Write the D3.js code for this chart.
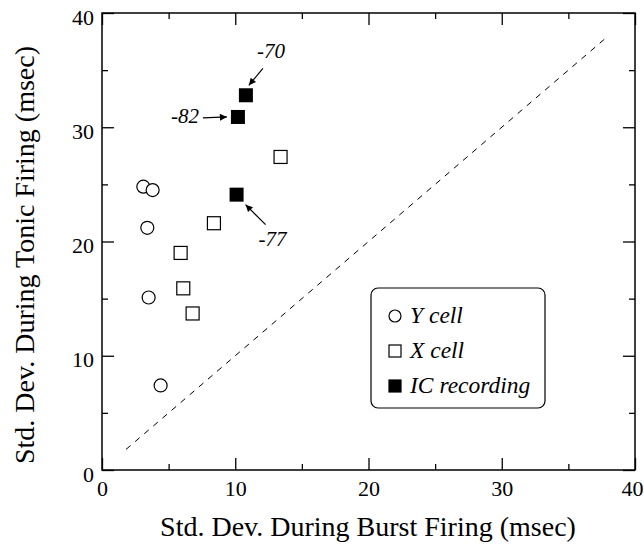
<!DOCTYPE html>
<html><head><meta charset="utf-8">
<script src="https://cdn.jsdelivr.net/npm/d3@7"></script>
<style>body{margin:0;background:#fff}svg{display:block}</style>
</head><body>
<script>
const yCellBurst = [3.1, 3.8, 3.4, 3.5, 4.4];
const yCellTonic = [24.8, 24.5, 21.2, 15.1, 7.4];
const xCellBurst = [13.4, 8.4, 5.9, 6.1, 6.8];
const xCellTonic = [27.4, 21.6, 19.0, 15.9, 13.7];
const icBurst = [10.8, 10.2, 10.1];
const icTonic = [32.8, 30.9, 24.1];
const icLabels = ["-70", "-82", "-77"];
const majorTicks = [0, 10, 20, 30, 40];
const minorTicks = [5, 15, 25, 35];
const unityLine = [1.8, 38];
const legendLabels = ["Y cell", "X cell", "IC recording"];

const W = 644, H = 544;
const m = {l: 102, r: 9, t: 13, b: 74};
const svg = d3.select("body").append("svg").attr("width", W).attr("height", H);
const x = d3.scaleLinear().domain([0, 40]).range([m.l, W - m.r]);
const y = d3.scaleLinear().domain([0, 40]).range([H - m.b, m.t]);
const font = "'Liberation Serif', 'Times New Roman', serif";

function ax(gen, tr, vals, size, labels, pad) {
  const g = svg.append("g").attr("transform", tr)
    .call(gen.tickValues(vals).tickSize(size).tickPadding(pad).tickFormat(labels ? d3.format("d") : ""));
  g.select(".domain").remove();
  g.attr("font-family", font);
  g.selectAll("line").attr("stroke", "#000").attr("stroke-width", 1.3);
  g.selectAll("text").attr("font-family", font).attr("font-size", 22).attr("fill", "#000");
  return g;
}
const bt = `translate(0,${y(0)})`, tt = `translate(0,${y(40)})`;
const lt = `translate(${x(0)},0)`, rt = `translate(${x(40)},0)`;
ax(d3.axisBottom(x), bt, majorTicks, -12, true, 10)
  .selectAll("text").attr("dx", d => d === 40 ? -3 : 0);
ax(d3.axisBottom(x), bt, minorTicks, -6, false, 10);
ax(d3.axisTop(x), tt, majorTicks, -12, false, 3);
ax(d3.axisTop(x), tt, minorTicks, -6, false, 3);
ax(d3.axisLeft(y), lt, majorTicks, -12, true, 8).selectAll("text").attr("dy", "0.5em");
ax(d3.axisLeft(y), lt, minorTicks, -6, false, 8);
ax(d3.axisRight(y), rt, majorTicks, -12, false, 3);
ax(d3.axisRight(y), rt, minorTicks, -6, false, 3);

svg.append("rect").attr("x", x(0)).attr("y", y(40))
  .attr("width", x(40) - x(0)).attr("height", y(0) - y(40))
  .attr("fill", "none").attr("stroke", "#000").attr("stroke-width", 1.5);

// unity line
svg.append("line")
  .attr("x1", x(unityLine[0])).attr("y1", y(unityLine[0]))
  .attr("x2", x(unityLine[1])).attr("y2", y(unityLine[1]))
  .attr("stroke", "#000").attr("stroke-width", 1).attr("stroke-dasharray", "6,6");

// Y cells
svg.append("g").selectAll("circle").data(yCellBurst).join("circle")
  .attr("cx", d => x(d)).attr("cy", (d, i) => y(yCellTonic[i])).attr("r", 6.5)
  .attr("fill", "#fff").attr("stroke", "#000").attr("stroke-width", 1.2);
// X cells
const s = 13;
svg.append("g").selectAll("rect").data(xCellBurst).join("rect")
  .attr("x", d => x(d) - s / 2).attr("y", (d, i) => y(xCellTonic[i]) - s / 2)
  .attr("width", s).attr("height", s)
  .attr("fill", "#fff").attr("stroke", "#000").attr("stroke-width", 1.2);
// IC
const s2 = 14;
svg.append("g").selectAll("rect").data(icBurst).join("rect")
  .attr("x", d => x(d) - s2 / 2).attr("y", (d, i) => y(icTonic[i]) - s2 / 2)
  .attr("width", s2).attr("height", s2).attr("fill", "#000");

// annotations
const defs = svg.append("defs");
defs.append("marker").attr("id", "ah").attr("viewBox", "0 0 10 10")
  .attr("refX", 10).attr("refY", 5).attr("markerWidth", 10).attr("markerHeight", 7)
  .attr("markerUnits", "userSpaceOnUse").attr("orient", "auto")
  .append("path").attr("d", "M0,0L10,5L0,10z").attr("fill", "#000");
const ann = [
  {tx: 11, ty: -37, ax1: 17, ay1: -27, ax2: 3, ay2: -10},
  {tx: -67, ty: 6, ax1: -35, ay1: 1, ax2: -11, ay2: 0},
  {tx: 22, ty: 51, ax1: 29, ay1: 30, ax2: 9, ay2: 10}
];
icBurst.forEach((b, i) => {
  const px = x(b), py = y(icTonic[i]), o = ann[i];
  svg.append("text").attr("x", px + o.tx).attr("y", py + o.ty)
    .attr("font-family", font).attr("font-style", "italic").attr("font-size", 21)
    .text(icLabels[i]);
  svg.append("line").attr("x1", px + o.ax1).attr("y1", py + o.ay1)
    .attr("x2", px + o.ax2).attr("y2", py + o.ay2)
    .attr("stroke", "#000").attr("stroke-width", 1.2).attr("marker-end", "url(#ah)");
});

// legend
const lg = svg.append("g").attr("transform", "translate(371,288)");
lg.append("rect").attr("width", 174).attr("height", 120).attr("rx", 7)
  .attr("fill", "#fff").attr("stroke", "#000").attr("stroke-width", 1.2);
legendLabels.forEach((t, i) => {
  const cy = 28 + i * 35;
  if (i === 0) lg.append("circle").attr("cx", 24).attr("cy", cy).attr("r", 6)
    .attr("fill", "#fff").attr("stroke", "#000").attr("stroke-width", 1.2);
  else lg.append("rect").attr("x", 18).attr("y", cy - 6).attr("width", 12).attr("height", 12)
    .attr("fill", i === 2 ? "#000" : "#fff").attr("stroke", "#000").attr("stroke-width", 1.2);
  lg.append("text").attr("x", 39).attr("y", cy + 7)
    .attr("font-family", font).attr("font-style", "italic").attr("font-size", 23.5).text(t);
});

// axis titles
svg.append("text").attr("x", 368).attr("y", 536)
  .attr("text-anchor", "middle").attr("font-family", font).attr("font-size", 28)
  .text("Std. Dev. During Burst Firing (msec)");
svg.append("text").attr("transform", `translate(34,255) rotate(-90)`)
  .attr("text-anchor", "middle").attr("font-family", font).attr("font-size", 28)
  .text("Std. Dev. During Tonic Firing (msec)");
</script>
</body></html>
